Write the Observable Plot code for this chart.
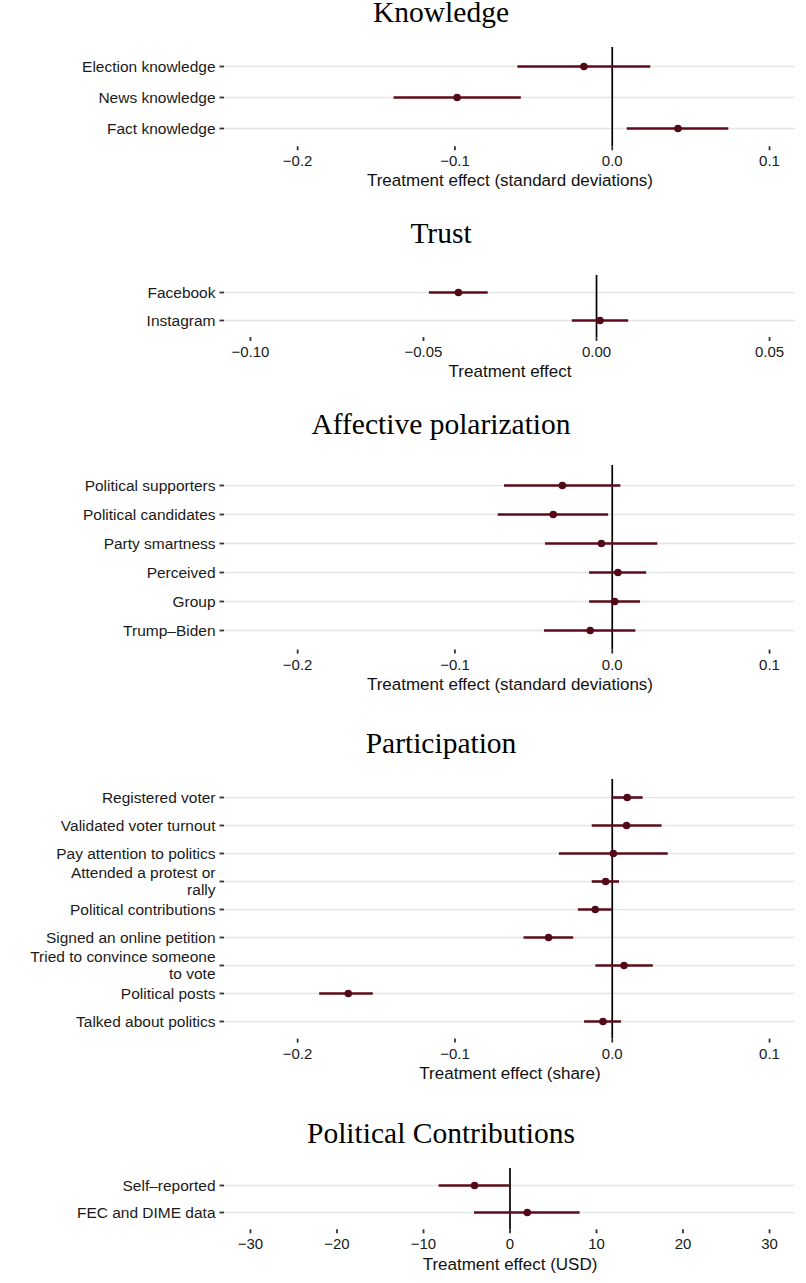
<!DOCTYPE html>
<html><head><meta charset="utf-8">
<script src="https://cdn.jsdelivr.net/npm/d3@7"></script>
<script src="https://cdn.jsdelivr.net/npm/@observablehq/plot@0.6"></script>
<style>
body{margin:0;background:#fff;}
#root{position:relative;width:806px;height:1283px;overflow:hidden;background:#fff;}
.title{position:absolute;left:0;width:882px;text-align:center;font-family:"Liberation Serif","DejaVu Serif",serif;font-size:29.5px;line-height:20px;color:#000;white-space:nowrap;}
.panel{position:absolute;left:0;}
</style></head><body><div id="root"></div>
<script>
// ---- Knowledge ----
const knowledgeLabels = ["Election knowledge", "News knowledge", "Fact knowledge"];
const knowledgeEst = [-0.018, -0.0986, 0.0418];
const knowledgeLo  = [-0.060, -0.1387, 0.0095];
const knowledgeHi  = [0.0245, -0.0578, 0.0741];
const knowledgeTicks = [-0.2, -0.1, 0.0, 0.1];

// ---- Trust ----
const trustLabels = ["Facebook", "Instagram"];
const trustEst = [-0.0399, 0.001];
const trustLo  = [-0.0483, -0.007];
const trustHi  = [-0.0313, 0.0093];
const trustTicks = [-0.10, -0.05, 0.00, 0.05];

// ---- Affective polarization ----
const affectiveLabels = ["Political supporters", "Political candidates", "Party smartness", "Perceived", "Group", "Trump\u2013Biden"];
const affectiveEst = [-0.0317, -0.0375, -0.0069, 0.0036, 0.0016, -0.014];
const affectiveLo  = [-0.0685, -0.0725, -0.0424, -0.0144, -0.0144, -0.0431];
const affectiveHi  = [0.0055, -0.0023, 0.029, 0.0219, 0.018, 0.015];

// ---- Participation ----
const participationLabels = ["Registered voter", "Validated voter turnout", "Pay attention to politics", "Attended a protest or\nrally", "Political contributions", "Signed an online petition", "Tried to convince someone\nto vote", "Political posts", "Talked about politics"];
const participationEst = [0.0095, 0.0091, 0.0007, -0.0042, -0.0108, -0.0405, 0.0075, -0.1678, -0.0059];
const participationLo  = [0.0, -0.0127, -0.0336, -0.0127, -0.0215, -0.0561, -0.0104, -0.186, -0.0176];
const participationHi  = [0.0196, 0.0317, 0.0356, 0.0046, 0.0, -0.0245, 0.0261, -0.1519, 0.0059];

// ---- Political Contributions ----
const contribLabels = ["Self\u2013reported", "FEC and DIME data"];
const contribEst = [-4.1, 2.0];
const contribLo  = [-8.2, -4.1];
const contribHi  = [0.0, 8.1];
const contribTicks = [-30, -20, -10, 0, 10, 20, 30];

const sdDomain = [-0.2465, 0.1165];

const root = document.getElementById("root");

function panel(o) {
  const mt = 4, mb = 56;
  const H = o.bottom - o.top;
  const rows = o.labels.map((l, i) => ({label: l, est: o.est[i], lo: o.lo[i], hi: o.hi[i]}));
  const plot = Plot.plot({
    width: 806,
    height: mt + H + mb,
    marginTop: mt, marginBottom: mb, marginLeft: 224, marginRight: 11,
    style: {fontFamily: "'Liberation Sans', Arial, sans-serif", fontSize: "15px", color: "#1a1a1a", background: "transparent"},
    x: {domain: o.domain},
    y: {type: "point", domain: o.labels, padding: 0.6},
    marks: [
      Plot.ruleY(rows, {y: "label", stroke: "#e2e5e5", strokeWidth: 1.6}),
      Plot.ruleX([0], {stroke: "#000", strokeWidth: 1.7}),
      Plot.ruleY(rows, {y: "label", x1: "lo", x2: "hi", stroke: "#5e0c1b", strokeWidth: 2.6}),
      Plot.dot(rows, {x: "est", y: "label", r: 3.8, fill: "#530a17"}),
      Plot.axisX({ticks: o.ticks, tickFormat: o.fmt, tickSize: 4, tickPadding: o.tickPad ?? 5, label: null, fontSize: 15, strokeWidth: 1.8, stroke: "#333", fill: "#1a1a1a"}),
      Plot.axisY({tickSize: 4.5, tickFormat: () => "", label: null, strokeWidth: 1.8, stroke: "#333"}),
      Plot.text(rows, {y: "label", text: d => d.label, frameAnchor: "left", textAnchor: "end", dx: -9, fontSize: 15.5, lineHeight: 1.08, fill: "#1a1a1a"}),
      Plot.text([o.axisLabel], {text: d => d, frameAnchor: "bottom", lineAnchor: "middle", dy: o.titleGap ?? 34.5, fontSize: 17, fill: "#111"})
    ]
  });
  const wrap = document.createElement("div");
  wrap.className = "panel";
  wrap.style.top = (o.top - mt) + "px";
  wrap.appendChild(plot);
  root.appendChild(wrap);

  const t = document.createElement("div");
  t.className = "title";
  t.textContent = o.title;
  // baseline = top + lineHeight/2 + 0.3375*fontSize
  t.style.top = (o.titleBaseline - 10 - 0.3375 * 29.5) + "px";
  root.appendChild(t);
}

panel({title: "Knowledge", titleBaseline: 22, labels: knowledgeLabels, est: knowledgeEst, lo: knowledgeLo, hi: knowledgeHi,
  domain: sdDomain, ticks: knowledgeTicks, fmt: d3.format(".1f"), axisLabel: "Treatment effect (standard deviations)",
  top: 46.7, bottom: 146, tickPad: 4.5, titleGap: 33.5});

panel({title: "Trust", titleBaseline: 243, labels: trustLabels, est: trustEst, lo: trustLo, hi: trustHi,
  domain: [-0.1075, 0.0575], ticks: trustTicks, fmt: d3.format(".2f"), axisLabel: "Treatment effect",
  top: 275, bottom: 337});

panel({title: "Affective polarization", titleBaseline: 434, labels: affectiveLabels, est: affectiveEst, lo: affectiveLo, hi: affectiveHi,
  domain: sdDomain, ticks: knowledgeTicks, fmt: d3.format(".1f"), axisLabel: "Treatment effect (standard deviations)",
  top: 465, bottom: 649.6});

panel({title: "Participation", titleBaseline: 753, labels: participationLabels, est: participationEst, lo: participationLo, hi: participationHi,
  domain: sdDomain, ticks: knowledgeTicks, fmt: d3.format(".1f"), axisLabel: "Treatment effect (share)",
  top: 779, bottom: 1038.6});

panel({title: "Political Contributions", titleBaseline: 1143, labels: contribLabels, est: contribEst, lo: contribLo, hi: contribHi,
  domain: [-33, 33], ticks: contribTicks, fmt: d3.format("d"), axisLabel: "Treatment effect (USD)",
  top: 1167.7, bottom: 1229});
</script>
</body></html>
